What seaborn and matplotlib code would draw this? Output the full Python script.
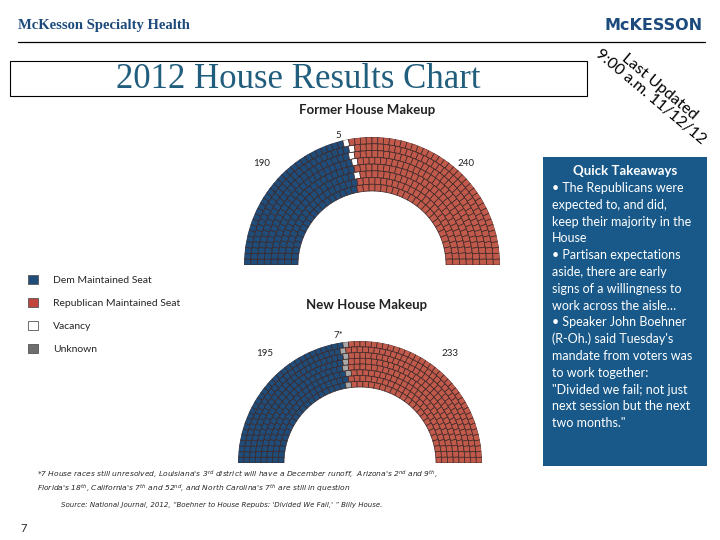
import numpy as np
import matplotlib
matplotlib.use("Agg")
import matplotlib.pyplot as plt
from matplotlib.patches import Patch, Rectangle
import seaborn as sns

# Seat counts, left to right around the hemicycle
former_kinds = ["dem", "vacancy", "rep"]
former_seats = [190, 5, 240]
former_labels = ["190", "5", "240"]

new_kinds = ["dem", "unknown", "rep"]
new_seats = [195, 7, 233]
new_labels = ["195", "7*", "233"]

legend_labels = ["Dem Maintained Seat", "Republican Maintained Seat", "Vacancy", "Unknown"]

takeaways = [
    "\u2022 The Republicans were",
    "expected to, and did,",
    "keep their majority in the",
    "House",
    "\u2022 Partisan expectations",
    "aside, there are early",
    "signs of a willingness to",
    "work across the aisle\u2026",
    "\u2022 Speaker John Boehner",
    "(R-Oh.) said Tuesday's",
    "mandate from voters was",
    "to work together:",
    "\"Divided we fail; not just",
    "next session but the next",
    "two months.\"",
]

sns.set_theme(style="white")
plt.rcParams["font.family"] = ["Lato", "DejaVu Sans"]

colors = {
    "dem": "#1f4c78",
    "rep": "#c25a4b",
    "vacancy": "#ffffff",
    "unknown": "#a8a8a8",
}
legend_colors = ["#1f4c78", "#c0453c", "#ffffff", "#6e6e6e"]
panel_blue = "#18598a"

W, H = 720, 540


def px(x, y):
    return x / W, 1 - y / H


def seat_layout(total, n_rows, r_in, r_out):
    edges = np.linspace(r_in, r_out, n_rows + 1)
    mids = (edges[:-1] + edges[1:]) / 2
    counts = np.floor(total * mids / mids.sum()).astype(int)
    rem = total - counts.sum()
    if rem > 0:
        counts[-rem:] += 1
    theta, bottom, width = [], [], []
    for i, n in enumerate(counts):
        w = np.pi / n
        th = np.pi - w * (np.arange(n) + 0.5)
        theta.extend(th)
        bottom.extend([edges[i]] * n)
        width.extend([w] * n)
    theta = np.array(theta)
    order = np.argsort(-theta, kind="stable")
    return theta[order], np.array(bottom)[order], np.array(width)[order], edges[1] - edges[0]


def draw_hemicycle(cx, cy, r_out_px, r_in_px, kinds, seats):
    # polar axes keeps a square box; the half disk is centred vertically in it
    left, bottom = px(cx - r_out_px, cy + 0.5 * r_out_px)
    ax = fig.add_axes([left, bottom, 2 * r_out_px / W, 2 * r_out_px / H], projection="polar")
    ax.set_thetamin(0)
    ax.set_thetamax(180)
    th, bt, wd, dr = seat_layout(sum(seats), 8, r_in_px, r_out_px)
    seat_colors = []
    for k, n in zip(kinds, seats):
        seat_colors += [colors[k]] * n
    ax.bar(th, dr, width=wd, bottom=bt, color=seat_colors,
           edgecolor="#3b2626", linewidth=0.5, align="center")
    ax.set_ylim(0, r_out_px)
    ax.axis("off")
    return ax


fig = plt.figure(figsize=(7.2, 5.4), dpi=100)

# header
fig.text(*px(18, 25), "McKesson Specialty Health", family="Liberation Serif",
         fontweight="bold", fontsize=10.5, color="#1d4a7c", va="center")
fig.text(*px(703, 25), "McKESSON", family="DejaVu Sans", fontweight="bold",
         fontsize=11.5, color="#1d4a7c", va="center", ha="right")
fig.add_artist(plt.Line2D([18 / W, 705 / W], [1 - 42 / H] * 2, color="black", lw=0.9))

# title box
x0, y0 = px(10, 96)
fig.add_artist(Rectangle((x0, y0), 577 / W, 35 / H, transform=fig.transFigure,
                         fill=False, edgecolor="black", lw=0.8))
fig.text(*px(298, 79), "2012 House Results Chart", family="Liberation Serif",
         fontsize=25, color="#215d7c", ha="center", va="center")

fig.text(*px(655, 92), "Last Updated\n9:00 a.m. 11/12/12", fontsize=11.5,
         rotation=-40, ha="center", va="center", multialignment="center",
         rotation_mode="anchor", color="black", linespacing=1.0)

# hemicycles
fig.text(*px(367, 110), "Former House Makeup", fontsize=9.5, ha="center",
         va="center", fontweight="bold", color="#222222")
draw_hemicycle(372, 265, 128, 74, former_kinds, former_seats)
for lbl, (x, y) in zip(former_labels, [(262, 163), (338, 135), (466, 163)]):
    fig.text(*px(x, y), lbl, fontsize=7, ha="center", va="center", color="#222222")

fig.text(*px(367, 305), "New House Makeup", fontsize=9.5, ha="center",
         va="center", fontweight="bold", color="#222222")
draw_hemicycle(360, 463, 122, 76, new_kinds, new_seats)
for lbl, (x, y) in zip(new_labels, [(265, 353), (338, 335), (450, 353)]):
    fig.text(*px(x, y), lbl, fontsize=7, ha="center", va="center", color="#222222")

# legend
handles = [Patch(facecolor=c, edgecolor="#555555", linewidth=0.6) for c in legend_colors]
fig.legend(handles, legend_labels, loc="upper left", bbox_to_anchor=px(24, 271),
           frameon=False, fontsize=7.5, handlelength=0.9, handleheight=0.9,
           handletextpad=1.5, labelspacing=1.25, borderaxespad=0)

# takeaways panel
x0, y0 = px(543, 466)
fig.add_artist(Rectangle((x0, y0), 164 / W, 309 / H, transform=fig.transFigure,
                         facecolor=panel_blue, edgecolor="none"))
fig.text(*px(625, 171), "Quick Takeaways", fontsize=9.5, fontweight="bold",
         color="white", ha="center", va="center")
for i, line in enumerate(takeaways):
    fig.text(*px(552, 188 + i * 16.8), line, fontsize=9, color="white", va="center")

# footnotes
fig.text(*px(37, 474), r"*7 House races still unresolved, Louisiana's 3$^{rd}$ district will have a "
         r"December runoff,  Arizona's 2$^{nd}$ and 9$^{th}$,", fontsize=5.4,
         style="italic", family="DejaVu Sans", va="center")
fig.text(*px(37, 488), r"Florida's 18$^{th}$, California's 7$^{th}$ and 52$^{nd}$, and North "
         r"Carolina's 7$^{th}$ are still in question", fontsize=5.4,
         style="italic", family="DejaVu Sans", va="center")
fig.text(*px(222, 505), "Source: National Journal, 2012, \u201cBoehner to House Repubs: "
         "'Divided We Fail,' \u201d Billy House.", fontsize=5.0, style="italic",
         family="DejaVu Sans", ha="center", va="center")
fig.text(*px(20, 529), "7", fontsize=8, va="center")

fig.savefig("out.png", dpi=100)
